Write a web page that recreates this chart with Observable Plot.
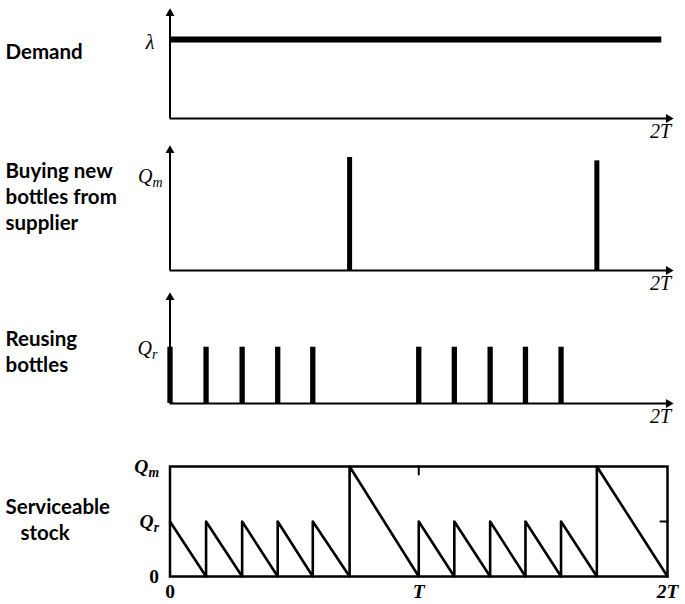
<!DOCTYPE html>
<html><head><meta charset="utf-8">
<script src="https://cdn.jsdelivr.net/npm/d3@7"></script>
<script src="https://cdn.jsdelivr.net/npm/@observablehq/plot@0.6"></script>
<style>
body{margin:0;background:#fff;}
#chart{position:relative;width:685px;height:604px;background:#fff;}
#chart svg{position:absolute;left:0;}
</style></head><body><div id="chart"></div>
<script>
// ---- data ----
const panelLabels = ["Demand", "Buying new\nbottles from\nsupplier", "Reusing\nbottles", "Serviceable\n\u00a0\u00a0\u00a0stock"];
const levelLabels = ["λ", "Q_m", "Q_r"];
const horizonLabel = "2T";
const demandT = [0, 1.975];
const demandLevel = [1, 1];
const buyTimes = [0.722, 1.716];
const buyQty = [1, 0.97];
const reuseTimes = [0, 0.145, 0.29, 0.433, 0.574, 1, 1.143, 1.287, 1.429, 1.572];
const reuseQty = [1, 1, 1, 1, 1, 1, 1, 1, 1, 1];
const stockT = [0, 0.145, 0.145, 0.29, 0.29, 0.433, 0.433, 0.574, 0.574, 0.722, 0.722, 1,
                1, 1.143, 1.143, 1.287, 1.287, 1.429, 1.429, 1.572, 1.572, 1.716, 1.716, 2];
const stockLevel = [1, 0, 1, 0, 1, 0, 1, 0, 1, 0, 2, 0,
                    1, 0, 1, 0, 1, 0, 1, 0, 1, 0, 2, 0];
const stockYTicks = [0, 1, 2];
const stockYLabels = ["0", "Q_r", "Q_m"];
const timeTicks = [0, 1, 2];
const timeLabels = ["0", "T", "2T"];
const innerYTicks = [1];
const innerXTicks = [1];

// ---- layout ----
const W = 685, ML = 169.5, MR = 18;
const serif = "Liberation Serif, Times New Roman, serif";
const sans = "Lato, Open Sans, sans-serif";
const root = document.getElementById("chart");

function labelMark(label, dy) {
  return Plot.text([label], {x: null, y: null, text: d => d, frameAnchor: "left", textAnchor: "start",
    lineAnchor: "middle", dx: -164.5, dy, fontSize: 20.5, fontWeight: "bold", fontFamily: sans, lineHeight: 1.27, fill: "black"});
}

function arrowAxes() {
  return [
    Plot.ruleX([0], {x: d => d, strokeWidth: 2}),
    Plot.ruleY([0], {y: d => d, strokeWidth: 2, insetRight: -2}),
    Plot.dot([0], {x: d => d, frameAnchor: "top", symbol: "triangle", r: 3.3, fill: "black", stroke: null, dy: -3}),
    Plot.dot([timeTicks[2]], {x: d => d, frameAnchor: "bottom", symbol: "triangle", r: 3.3, fill: "black", stroke: null, rotate: 90, dx: 1}),
    Plot.text([{t: timeTicks[2], label: horizonLabel}], {x: "t", text: "label", frameAnchor: "bottom", dy: 19, dx: -7,
      fontSize: 20, fontStyle: "italic", fontFamily: serif, fill: "black"})
  ];
}

function levelText(v, label, dx, dy) {
  return Plot.text([{v, label}], {y: "v", text: "label", frameAnchor: "left", textAnchor: "end", dx, dy,
    fontSize: 20, fontStyle: "italic", fontFamily: serif, fill: "black"});
}

function panel(top, height, marginTop, marginBottom, yMax, marks) {
  const svg = Plot.plot({
    width: W, height, marginLeft: ML, marginRight: MR, marginTop, marginBottom,
    x: {domain: [0, 2], axis: null},
    y: {domain: [0, yMax], axis: null},
    style: {background: "transparent", overflow: "visible"},
    marks
  });
  svg.style.top = top + "px";
  root.appendChild(svg);
  return svg;
}

// Panel 1: demand
panel(0, 140, 16, 22, 1.29, [
  labelMark(panelLabels[0], -17),
  Plot.line(demandT.map((t, i) => ({t, v: demandLevel[i]})), {x: "t", y: "v", strokeWidth: 6, strokeLinecap: "butt"}),
  ...arrowAxes(),
  levelText(demandLevel[0], levelLabels[0], -15.5, 3)
]);

// Panel 2: buying new bottles
panel(140, 150, 13, 20, 1.035, [
  labelMark(panelLabels[1], -16.5),
  Plot.ruleX(buyTimes.map((t, i) => ({t, q: buyQty[i]})), {x: "t", y1: 0, y2: "q", strokeWidth: 5}),
  ...arrowAxes(),
  levelText(buyQty[0], levelLabels[1], -7.5, 19)
]);

// Panel 3: reusing bottles
panel(290, 150, 10, 37, 1.83, [
  labelMark(panelLabels[2], -1),
  Plot.ruleX(reuseTimes.map((t, i) => ({t, q: reuseQty[i]})), {x: "t", y1: 0, y2: "q", strokeWidth: 5.3}),
  ...arrowAxes(),
  levelText(reuseQty[0], levelLabels[2], -12.5, 1)
]);

// Panel 4: serviceable stock
const tickShape = {draw(ctx, l) { ctx.moveTo(0, 0); ctx.lineTo(0, -l); }};
panel(440, 164, 26, 28, 2, [
  labelMark(panelLabels[3], -2.5),
  Plot.frame({strokeWidth: 2.5}),
  Plot.line(stockT.map((t, i) => ({t, v: stockLevel[i]})), {x: "t", y: "v", strokeWidth: 2.6, strokeLinejoin: "round"}),
  Plot.vector(innerYTicks, {y: d => d, frameAnchor: "right", rotate: -90, length: 7, anchor: "start", shape: tickShape, strokeWidth: 2}),
  Plot.vector(innerXTicks, {x: d => d, frameAnchor: "top", rotate: 180, length: 8, anchor: "start", shape: tickShape, strokeWidth: 2}),
  Plot.text(stockYTicks.map((v, i) => ({v, label: stockYLabels[i]})), {y: "v", text: "label", frameAnchor: "left", textAnchor: "end",
    dx: -11, fontSize: 19.5, fontWeight: "bold", fontStyle: "italic", fontFamily: serif, fill: "black"}),
  Plot.text(timeTicks.map((t, i) => ({t, label: timeLabels[i]})), {x: "t", text: "label", frameAnchor: "bottom", dy: 21,
    fontSize: 19.5, fontWeight: "bold", fontStyle: "italic", fontFamily: serif, fill: "black"})
]);

// subscripts (Q_m -> Q with subscript m) and upright zeros
root.querySelectorAll("text").forEach(el => {
  if (el.children.length) return;
  const s = el.textContent;
  if (s === "0") { el.setAttribute("font-style", "normal"); el.style.fontStyle = "normal"; return; }
  const m = s.match(/^(.+)_(.+)$/);
  if (!m) return;
  el.textContent = "";
  const ns = "http://www.w3.org/2000/svg";
  const a = document.createElementNS(ns, "tspan"); a.textContent = m[1];
  const b = document.createElementNS(ns, "tspan"); b.textContent = m[2];
  b.setAttribute("font-size", "70%"); b.setAttribute("dy", "0.3em");
  el.appendChild(a); el.appendChild(b);
});
</script></body></html>
